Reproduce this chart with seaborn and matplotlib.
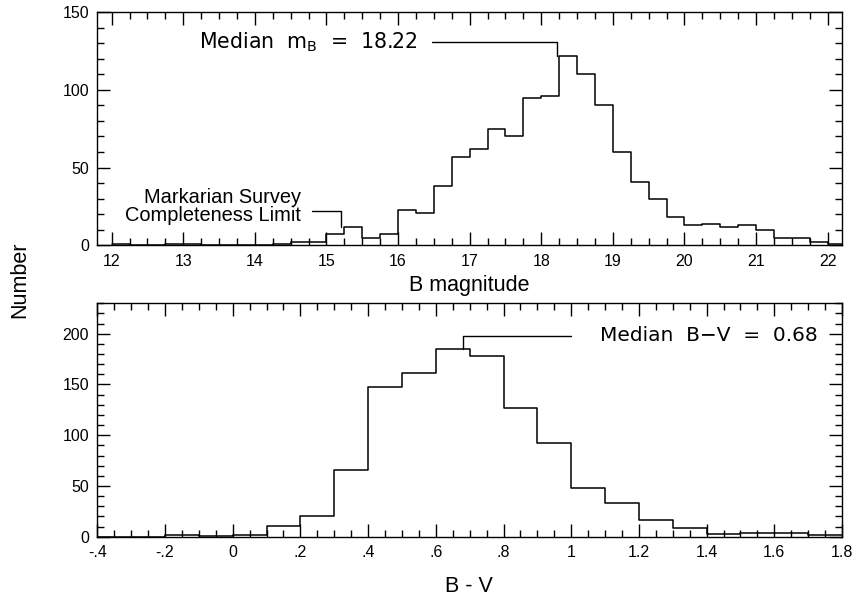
import numpy as np
import pandas as pd
import matplotlib
matplotlib.use("Agg")
import matplotlib.pyplot as plt
from matplotlib.ticker import MultipleLocator, FuncFormatter
import seaborn as sns

# B magnitude histogram (bin width 0.25 starting at 12.0)
mag_start = 12.0
mag_width = 0.25
mag_counts = [1, 0, 0, 1, 1, 0, 0, 0, 0, 1, 2, 2, 7, 12, 5, 7, 23, 21, 38, 57,
              62, 75, 70, 95, 96, 122, 110, 90, 60, 41, 30, 18, 13, 14, 12, 13,
              10, 5, 5, 2, 1]
median_mag = 18.22

# B-V colour histogram (bin width 0.1 starting at -0.4)
bv_start = -0.4
bv_width = 0.1
bv_counts = [0, 0, 2, 1, 2, 11, 20, 66, 148, 161, 185, 178, 127, 92, 48, 33,
             16, 9, 3, 4, 4, 2]
median_bv = 0.68

sns.set_style("ticks")
plt.rcParams["font.family"] = ["Liberation Sans", "DejaVu Sans"]
plt.rcParams["mathtext.default"] = "regular"
plt.rcParams["axes.linewidth"] = 1.0
plt.rcParams["text.color"] = "black"
plt.rcParams["axes.labelcolor"] = "black"
plt.rcParams["xtick.color"] = "black"
plt.rcParams["ytick.color"] = "black"


def hist_frame(start, width, counts):
    n = len(counts)
    df = pd.DataFrame({"x": [start + width * (i + 0.5) for i in range(n)],
                       "n": counts})
    edges = [start + width * i for i in range(n + 1)]
    return df, edges


def style_axes(ax):
    ax.tick_params(which="both", direction="in", top=True, right=True,
                   labelsize=11.5, width=1.0, colors="black")
    ax.tick_params(which="major", length=9.5, pad=6)
    ax.tick_params(which="minor", length=5)
    ax.set_xlabel("")
    ax.set_ylabel("")
    for s in ax.spines.values():
        s.set_visible(True)
        s.set_color("black")


fig = plt.figure(figsize=(8.53, 5.98), dpi=100)
W, H = 853, 598
left, right = 97.3, 842
ax1 = fig.add_axes([left / W, (H - 245.3) / H, (right - left) / W, (245.3 - 12) / H])
ax2 = fig.add_axes([left / W, (H - 536.7) / H, (right - left) / W, (536.7 - 303.3) / H])

# top panel
mag_df, mag_edges = hist_frame(mag_start, mag_width, mag_counts)
sns.histplot(data=mag_df, x="x", weights="n", bins=mag_edges, element="step",
             fill=False, color="black", linewidth=1.1, ax=ax1)
ax1.set_xlim(11.8, 22.2)
ax1.set_ylim(0, 150)
ax1.xaxis.set_major_locator(MultipleLocator(1))
ax1.xaxis.set_minor_locator(MultipleLocator(0.25))
ax1.yaxis.set_major_locator(MultipleLocator(50))
ax1.yaxis.set_minor_locator(MultipleLocator(10))
style_axes(ax1)

i_med = int((median_mag - mag_start) // mag_width)
ax1.plot([16.47, median_mag, median_mag], [130.5, 130.5, mag_counts[i_med + 1]],
         color="black", lw=1.0)
ax1.text(16.28, 130.5, "Median  m$_{B}$  =  18.22", family="DejaVu Sans",
         fontsize=14.8, ha="right", va="center")
ax1.plot([14.8, 15.2, 15.2], [22.2, 22.2, 12], color="black", lw=1.0)
ax1.text(14.64, 25, "Markarian Survey\nCompleteness Limit", fontsize=14.4,
         ha="right", va="center", multialignment="right", linespacing=0.95)

# bottom panel
bv_df, bv_edges = hist_frame(bv_start, bv_width, bv_counts)
sns.histplot(data=bv_df, x="x", weights="n", bins=bv_edges, element="step",
             fill=False, color="black", linewidth=1.1, ax=ax2)
ax2.set_xlim(-0.4, 1.8)
ax2.set_ylim(0, 230)
ax2.xaxis.set_major_locator(MultipleLocator(0.2))
ax2.xaxis.set_minor_locator(MultipleLocator(0.05))
ax2.yaxis.set_major_locator(MultipleLocator(50))
ax2.yaxis.set_minor_locator(MultipleLocator(10))


def bv_fmt(v, pos):
    s = f"{round(v, 2):g}"
    return s.replace("0.", ".")


ax2.xaxis.set_major_formatter(FuncFormatter(bv_fmt))
style_axes(ax2)

j_med = int((median_bv - bv_start) // bv_width)
ax2.plot([1.0, median_bv, median_bv], [198, 198, bv_counts[j_med]],
         color="black", lw=1.0)
ax2.text(1.085, 198, "Median  B\u2212V  =  0.68", family="DejaVu Sans",
         fontsize=14.5, ha="left", va="center")

fig.text(469 / W, 1 - 285 / H, "B magnitude", fontsize=15.5, ha="center", va="center")
fig.text(469 / W, 1 - 586 / H, "B - V", fontsize=15.5, ha="center", va="center")
fig.text(20 / W, 1 - 280 / H, "Number", fontsize=15.5, rotation=90,
         ha="center", va="center")

fig.savefig("out.png", dpi=100)
